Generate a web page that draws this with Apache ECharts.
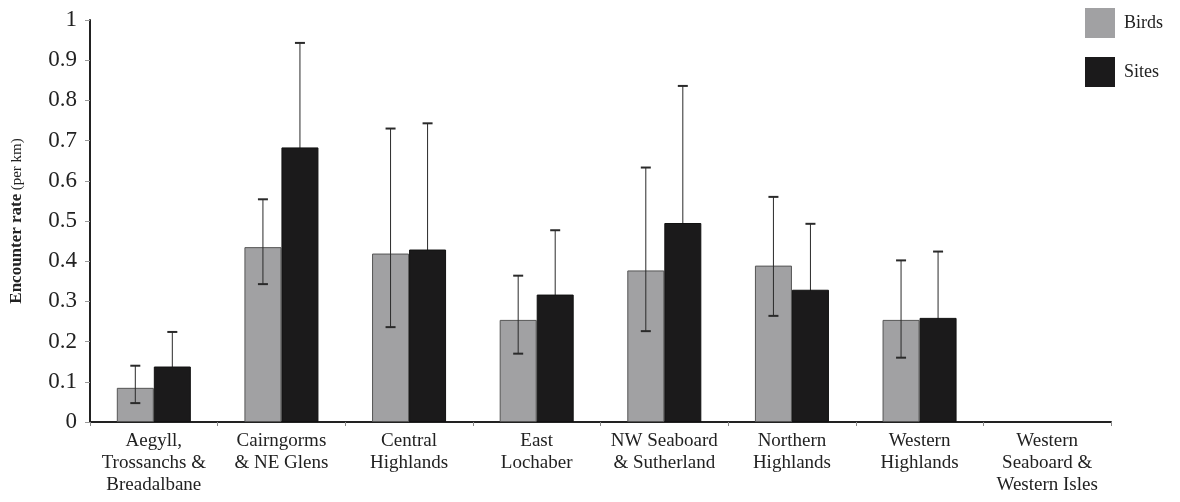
<!DOCTYPE html>
<html>
<head>
<meta charset="utf-8">
<script src="https://cdn.jsdelivr.net/npm/echarts@6/dist/echarts.min.js"></script>
<style>html,body{margin:0;padding:0;background:#fff}#c{width:1180px;height:502px}</style>
</head>
<body>
<div id="c"></div>
<script>
var categories = ['Aegyll,\nTrossanchs &\nBreadalbane', 'Cairngorms\n& NE Glens', 'Central\nHighlands', 'East\nLochaber', 'NW Seaboard\n& Sutherland', 'Northern\nHighlands', 'Western\nHighlands', 'Western\nSeaboard &\nWestern Isles'];
var birds = [0.085, 0.435, 0.419, 0.254, 0.377, 0.389, 0.254, null];
var birdsLow = [0.047, 0.343, 0.236, 0.170, 0.226, 0.264, 0.160, null];
var birdsHigh = [0.140, 0.554, 0.730, 0.364, 0.633, 0.560, 0.402, null];
var sites = [0.138, 0.683, 0.429, 0.317, 0.495, 0.329, 0.259, null];
var sitesLow = [0.052, 0.423, 0.115, 0.157, 0.154, 0.165, 0.094, null];
var sitesHigh = [0.224, 0.943, 0.743, 0.477, 0.836, 0.493, 0.424, null];
var yTicks = [0, 0.1, 0.2, 0.3, 0.4, 0.5, 0.6, 0.7, 0.8, 0.9, 1];

var GAP = 0.42;
function errData(low, high) {
  var d = [];
  for (var i = 0; i < categories.length; i++) {
    if (low[i] != null) d.push([i, low[i], high[i]]);
  }
  return d;
}
function errRender(side, lowerCap) {
  return function (params, api) {
    var idx = api.value(0);
    var bandW = api.size([1, 0])[0];
    var bw = bandW * (1 - GAP) / 2;
    var lo = api.coord([idx, api.value(1)]);
    var hi = api.coord([idx, api.value(2)]);
    var x = lo[0] + side * bw / 2;
    var cap = 5;
    var col = '#2a2a2a';
    var ch = [
      { type: 'line', shape: { x1: x, y1: lo[1], x2: x, y2: hi[1] }, style: { stroke: col, lineWidth: 1 } },
      { type: 'line', shape: { x1: x - cap, y1: hi[1], x2: x + cap, y2: hi[1] }, style: { stroke: col, lineWidth: 2 } }
    ];
    if (lowerCap) ch.push({ type: 'line', shape: { x1: x - cap, y1: lo[1], x2: x + cap, y2: lo[1] }, style: { stroke: col, lineWidth: 2 } });
    return { type: 'group', children: ch };
  };
}

var serif = 'Liberation Serif';
var chart = echarts.init(document.getElementById('c'), null, { renderer: 'canvas' });
chart.setOption({
  animation: false,
  backgroundColor: '#fff',
  textStyle: { fontFamily: serif },
  grid: { left: 90, right: 69, top: 20, bottom: 80 },
  legend: {
    data: [
      { name: 'Birds', itemStyle: { borderWidth: 0 } },
      { name: 'Sites', itemStyle: { borderWidth: 0 } }
    ],
    orient: 'vertical',
    left: 1080,
    top: 3,
    itemWidth: 30,
    itemHeight: 30,
    itemGap: 19,
    icon: 'rect',
    textStyle: { fontFamily: serif, fontSize: 18, color: '#222', padding: [0, 0, 0, 4] }
  },
  xAxis: {
    type: 'category',
    data: categories,
    axisLine: { lineStyle: { color: '#222', width: 2 } },
    axisTick: { show: true, length: 4, lineStyle: { color: '#888' } },
    axisLabel: { fontFamily: serif, fontSize: 19, lineHeight: 22, color: '#222', margin: 8, interval: 0 },
    splitLine: { show: false }
  },
  yAxis: {
    type: 'value',
    min: 0,
    max: 1,
    interval: 0.1,
    axisLine: { show: true, lineStyle: { color: '#222', width: 2 } },
    axisTick: { show: true, length: 5, lineStyle: { color: '#999' } },
    splitLine: { show: false },
    axisLabel: {
      fontFamily: serif, fontSize: 23, color: '#222', margin: 13,
      formatter: function (v) {
        for (var i = 0; i < yTicks.length; i++) if (Math.abs(yTicks[i] - v) < 1e-9) return String(yTicks[i]);
        return '';
      }
    }
  },
  graphic: [{
    type: 'text',
    x: 17,
    y: 221,
    rotation: Math.PI / 2,
    style: {
      text: '{b|Encounter rate} {n|(per km)}',
      align: 'center',
      verticalAlign: 'middle',
      fill: '#222',
      rich: {
        b: { fontFamily: serif, fontSize: 17, fontWeight: 'bold', fill: '#222' },
        n: { fontFamily: serif, fontSize: 15, fill: '#222' }
      }
    }
  }],
  series: [
    {
      name: 'Birds', type: 'bar', data: birds, barGap: '0%', barCategoryGap: (GAP * 100) + '%', z: 2,
      itemStyle: { color: '#a1a1a3', borderColor: '#555', borderWidth: 1 }
    },
    {
      name: 'Sites', type: 'bar', data: sites, z: 2,
      itemStyle: { color: '#1b1a1b', borderColor: '#111', borderWidth: 1 }
    },
    { name: 'BirdsErr', type: 'custom', renderItem: errRender(-1, true), data: errData(birdsLow, birdsHigh), z: 10, encode: { x: 0, y: [1, 2] } },
    { name: 'SitesErr', type: 'custom', renderItem: errRender(1, false), data: errData(sitesLow, sitesHigh), z: 1, encode: { x: 0, y: [1, 2] } }
  ]
});
</script>
</body>
</html>
